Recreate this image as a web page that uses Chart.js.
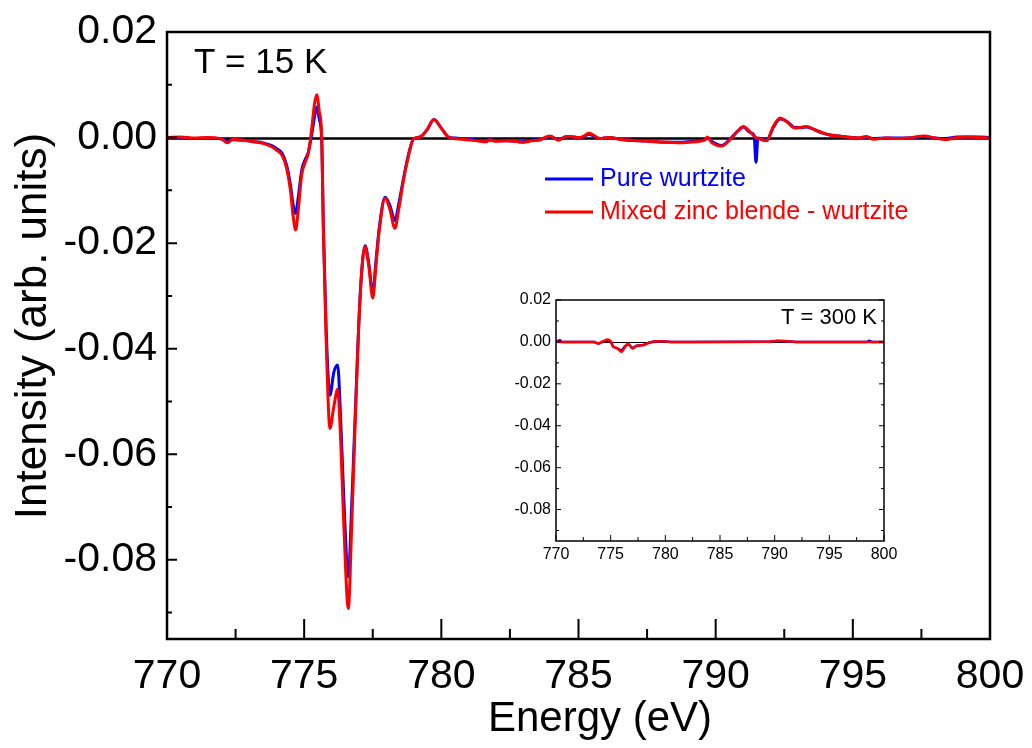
<!DOCTYPE html>
<html>
<head>
<meta charset="utf-8">
<script src="https://cdn.jsdelivr.net/npm/chart.js@4.4.1/dist/chart.umd.min.js"></script>
<style>
  html, body { margin: 0; padding: 0; background: #fff; }
  #wrap { position: relative; width: 1032px; height: 748px; }
  #main { position: absolute; left: 0; top: 0; }
  #inset { position: absolute; left: 470px; top: 280px; }
</style>
</head>
<body>
<div id="wrap">
  <canvas id="main" width="1032" height="748"></canvas>
  <canvas id="inset" width="440" height="300"></canvas>
</div>
<script>
// T = 15 K spectra
const energy15 = [
  770.0, 770.5, 771.0, 771.5, 772.0, 772.2, 772.4, 772.8, 773.2, 773.5,
  773.8, 774.0, 774.2, 774.36, 774.5, 774.6, 774.69, 774.78, 774.91, 775.05,
  775.15, 775.27, 775.38, 775.46, 775.55, 775.64, 775.70, 775.80, 775.94, 776.08,
  776.22, 776.32, 776.45, 776.61, 776.73, 776.85, 777.04, 777.22, 777.36, 777.50,
  777.62, 777.74, 777.95, 778.12, 778.31, 778.45, 778.62, 778.8, 778.98, 779.22,
  779.47, 779.73, 780.01, 780.26, 780.5, 780.93, 781.3, 781.65, 781.75, 782.0,
  782.38, 782.7, 782.93, 783.3, 783.6, 783.96, 784.27, 784.57, 785.06, 785.39,
  785.79, 786.09, 786.64, 787.24, 787.85, 788.3, 788.7, 789.2, 789.6, 789.7,
  789.85, 790.22, 790.52, 790.8, 791.01, 791.25, 791.40, 791.47, 791.54, 791.70,
  791.86, 792.10, 792.35, 792.59, 792.89, 793.1, 793.32, 793.6, 793.81, 794.17,
  794.5, 794.78, 795.2, 795.5, 795.75, 796.2, 796.6, 797.0, 797.6, 798.0,
  798.4, 798.8, 799.2, 799.6, 800.0
];
const pureWz15 = [
  -0.0001, -0.0001, -0.0002, -0.0001, -0.0003, -0.0006, -0.0004, -0.0005, -0.0008, -0.0010,
  -0.0015, -0.0021, -0.0030, -0.0052, -0.0090, -0.0128, -0.0144, -0.0115, -0.0062, -0.0040,
  -0.0028, 0.0004, 0.0040, 0.0058, 0.0035, -0.0005, -0.0170, -0.0360, -0.0488, -0.0445,
  -0.0431, -0.0520, -0.0690, -0.0832, -0.0700, -0.0540, -0.0300, -0.0205, -0.0240, -0.0295,
  -0.0232, -0.0170, -0.0113, -0.0128, -0.0157, -0.0125, -0.0078, -0.0033, -0.0003, 0.0001,
  0.0014, 0.0034, 0.0017, 0.0001, -0.0001, -0.0003, -0.0005, -0.0007, -0.0004, -0.0006,
  -0.0006, -0.0007, -0.0008, -0.0005, -0.0004, 0.0002, -0.0004, 0.0002, 0.0000, 0.0006,
  -0.0002, 0.0000, -0.0004, -0.0006, -0.0008, -0.0009, -0.0009, -0.0007, -0.0004, 0.0000,
  -0.0007, -0.0015, -0.0003, 0.0012, 0.0020, 0.0010, 0.0004, -0.0047, -0.0001, -0.0004,
  -0.0005, 0.0019, 0.0035, 0.0031, 0.0019, 0.0019, 0.0020, 0.0015, 0.0010, 0.0005,
  0.0003, 0.0001, -0.0001, 0.0001, -0.0002, -0.0001, -0.0001, -0.0001, 0.0002, -0.0001,
  -0.0002, 0.0001, 0.0001, 0.0001, 0.0000
];
const mixed15 = [
  0.0000, 0.0001, -0.0001, 0.0000, -0.0003, -0.0010, -0.0003, -0.0005, -0.0008, -0.0011,
  -0.0017, -0.0024, -0.0034, -0.0058, -0.0100, -0.0150, -0.0175, -0.0140, -0.0070, -0.0045,
  -0.0030, 0.0014, 0.0065, 0.0081, 0.0050, 0.0000, -0.0175, -0.0380, -0.0551, -0.0510,
  -0.0477, -0.0560, -0.0740, -0.0892, -0.0740, -0.0554, -0.0302, -0.0207, -0.0245, -0.0304,
  -0.0240, -0.0175, -0.0115, -0.0135, -0.0172, -0.0135, -0.0081, -0.0035, -0.0003, 0.0001,
  0.0014, 0.0034, 0.0017, 0.0001, -0.0002, -0.0004, -0.0006, -0.0008, -0.0004, -0.0007,
  -0.0006, -0.0007, -0.0009, -0.0006, -0.0004, 0.0003, -0.0005, 0.0002, 0.0000, 0.0008,
  -0.0002, 0.0000, -0.0004, -0.0006, -0.0008, -0.0009, -0.0010, -0.0008, -0.0005, 0.0001,
  -0.0009, -0.0016, -0.0004, 0.0012, 0.0021, 0.0011, 0.0003, 0.0000, -0.0002, -0.0004,
  -0.0006, 0.0021, 0.0037, 0.0030, 0.0018, 0.0019, 0.0021, 0.0015, 0.0011, 0.0005,
  0.0003, 0.0001, -0.0001, 0.0002, -0.0003, -0.0001, -0.0002, -0.0001, 0.0003, -0.0001,
  -0.0004, 0.0000, 0.0001, 0.0000, -0.0001
];

// T = 300 K spectra (inset)
const energy300 = [
  770.0, 770.37, 770.5, 773.5, 773.85, 774.3, 774.7, 775.0, 775.24, 775.6,
  776.0, 776.3, 776.6, 777.0, 777.38, 777.99, 778.5, 779.0, 779.5, 780.5,
  789.5, 790.2, 791.0, 792.0, 798.4, 798.66, 798.9, 800.0
];
const pureWz300 = [
  0.0000, 0.0008, 0.0000, 0.0000, -0.0008, 0.0002, 0.0006, 0.0000, -0.0024, -0.0030,
  -0.0040, -0.0022, -0.0012, -0.0028, -0.0018, -0.0014, -0.0004, 0.0002, 0.0003, 0.0000,
  0.0001, 0.0004, 0.0003, 0.0000, 0.0000, 0.0005, 0.0000, 0.0000
];
const mixed300 = [
  0.0000, 0.0001, 0.0000, 0.0000, -0.0008, 0.0002, 0.0011, 0.0003, -0.0022, -0.0030,
  -0.0048, -0.0025, -0.0008, -0.0032, -0.0018, -0.0016, -0.0004, 0.0002, 0.0003, 0.0000,
  0.0001, 0.0006, 0.0004, 0.0000, 0.0000, 0.0000, 0.0000, 0.0000
];

const xTicks = [770, 775, 780, 785, 790, 795, 800];
const xMinorTicks = [772.5, 777.5, 782.5, 787.5, 792.5, 797.5];
const yTicks = [0.02, 0.00, -0.02, -0.04, -0.06, -0.08];
const yMinorTicks = [0.01, -0.01, -0.03, -0.05, -0.07, -0.09];
const yMin = -0.095, yMax = 0.02;

const seriesNames = ['Pure wurtzite', 'Mixed zinc blende - wurtzite'];
const seriesColors = ['#0000ff', '#ff0000'];

const FONT = "'Liberation Sans', Arial, Helvetica, sans-serif";
Chart.defaults.font.family = FONT;
Chart.defaults.color = '#000';

const toPoints = (xs, ys) => xs.map((x, i) => ({ x: x, y: ys[i] }));

function framePlugin(cfg) {
  return {
    id: 'frame',
    beforeDatasetsDraw(chart) {
      const { ctx, chartArea: a, scales } = chart;
      const y0 = Math.round(scales.y.getPixelForValue(0)) + 0.5;
      ctx.save();
      ctx.strokeStyle = '#000';
      ctx.lineWidth = cfg.zeroWidth;
      ctx.beginPath();
      ctx.moveTo(a.left, y0);
      ctx.lineTo(a.right, y0);
      ctx.stroke();
      ctx.restore();
    },
    afterDatasetsDraw(chart) {
      const { ctx, chartArea: a, scales } = chart;
      ctx.save();
      ctx.strokeStyle = '#000';
      ctx.lineWidth = cfg.boxWidth;
      ctx.strokeRect(a.left, a.top, a.right - a.left, a.bottom - a.top);
      ctx.lineWidth = cfg.tickWidth;
      ctx.beginPath();
      const xTick = (v, len) => {
        const px = scales.x.getPixelForValue(v);
        ctx.moveTo(px, a.bottom);
        ctx.lineTo(px, a.bottom - len);
      };
      const yTick = (v, len) => {
        const py = scales.y.getPixelForValue(v);
        ctx.moveTo(a.left, py);
        ctx.lineTo(a.left + len, py);
        if (cfg.rightTicks) {
          ctx.moveTo(a.right, py);
          ctx.lineTo(a.right - len, py);
        }
      };
      xTicks.forEach(v => xTick(v, cfg.xMajor));
      xMinorTicks.forEach(v => xTick(v, cfg.xMinor));
      yTicks.forEach(v => yTick(v, cfg.yMajor));
      yMinorTicks.forEach(v => yTick(v, cfg.yMinor));
      ctx.stroke();
      ctx.restore();
    }
  };
}

const mainNotes = {
  id: 'mainNotes',
  afterDraw(chart) {
    const ctx = chart.ctx;
    ctx.save();
    ctx.fillStyle = '#000';
    ctx.textBaseline = 'middle';
    ctx.textAlign = 'center';

    // axis titles
    ctx.font = '42px ' + FONT;
    ctx.fillText('Energy (eV)', 600, 719);
    ctx.save();
    ctx.translate(34, 326);
    ctx.rotate(-Math.PI / 2);
    ctx.font = '44px ' + FONT;
    ctx.fillText('Intensity (arb. units)', 0, 0);
    ctx.restore();

    ctx.textAlign = 'left';
    ctx.font = '35px ' + FONT;
    ctx.fillText('T = 15 K', 194, 63);

    // legend
    ctx.font = '25px ' + FONT;
    const rows = [179, 212];
    rows.forEach((yy, i) => {
      ctx.strokeStyle = seriesColors[i];
      ctx.lineWidth = 3;
      ctx.beginPath();
      ctx.moveTo(545, yy);
      ctx.lineTo(593, yy);
      ctx.stroke();
      ctx.fillStyle = seriesColors[i];
      ctx.fillText(seriesNames[i], 600, yy);
    });
    ctx.restore();
  }
};

const insetNotes = {
  id: 'insetNotes',
  afterDraw(chart) {
    const ctx = chart.ctx;
    ctx.save();
    ctx.fillStyle = '#000';
    ctx.font = '22px ' + FONT;
    ctx.textBaseline = 'middle';
    ctx.textAlign = 'right';
    ctx.fillText('T = 300 K', 407, 38);
    ctx.restore();
  }
};

function makeDatasets(xs, blue, red, width) {
  return [
    {
      label: seriesNames[0],
      data: toPoints(xs, blue),
      borderColor: seriesColors[0],
      borderWidth: width,
      pointRadius: 0,
      cubicInterpolationMode: 'monotone',
      order: 1
    },
    {
      label: seriesNames[1],
      data: toPoints(xs, red),
      borderColor: seriesColors[1],
      borderWidth: width,
      pointRadius: 0,
      cubicInterpolationMode: 'monotone',
      order: 0
    }
  ];
}

function axes(o) {
  return {
    x: {
      type: 'linear', min: 770, max: 800,
      afterBuildTicks: s => { s.ticks = xTicks.map(v => ({ value: v })); },
      afterFit: s => { s.height = o.xHeight; s.paddingLeft = 0; s.paddingRight = 0; },
      grid: { display: false, drawTicks: false },
      border: { display: false },
      ticks: { font: { size: o.tickSize }, padding: o.xPad, maxRotation: 0, autoSkip: false, callback: v => String(v) }
    },
    y: {
      type: 'linear', min: yMin, max: yMax,
      afterBuildTicks: s => { s.ticks = yTicks.map(v => ({ value: v })); },
      afterFit: s => { s.width = o.yWidth; s.paddingTop = 0; s.paddingBottom = 0; },
      grid: { display: false, drawTicks: false },
      border: { display: false },
      ticks: { font: { size: o.tickSize }, padding: o.yPad, autoSkip: false, callback: v => v.toFixed(2) }
    }
  };
}

new Chart(document.getElementById('main'), {
  type: 'line',
  data: { datasets: makeDatasets(energy15, pureWz15, mixed15, 3) },
  options: {
    responsive: false,
    animation: false,
    devicePixelRatio: 1,
    layout: { padding: { top: 32, right: 42, left: 0, bottom: 0 } },
    plugins: { legend: { display: false }, tooltip: { enabled: false } },
    scales: axes({ xHeight: 109, yWidth: 167, tickSize: 41, xPad: 13, yPad: 10 })
  },
  plugins: [framePlugin({ zeroWidth: 2.5, boxWidth: 2.5, tickWidth: 2, xMajor: 20, xMinor: 10, yMajor: 10, yMinor: 5, rightTicks: false }), mainNotes]
});

new Chart(document.getElementById('inset'), {
  type: 'line',
  data: { datasets: makeDatasets(energy300, pureWz300, mixed300, 2.5) },
  options: {
    responsive: false,
    animation: false,
    devicePixelRatio: 1,
    layout: { padding: { top: 20, right: 26, left: 0, bottom: 0 } },
    plugins: { legend: { display: false }, tooltip: { enabled: false } },
    scales: axes({ xHeight: 39, yWidth: 86, tickSize: 16, xPad: 4, yPad: 5 })
  },
  plugins: [framePlugin({ zeroWidth: 1, boxWidth: 1.5, tickWidth: 1, xMajor: 6, xMinor: 4, yMajor: 5, yMinor: 3, rightTicks: true }), insetNotes]
});
</script>
</body>
</html>
